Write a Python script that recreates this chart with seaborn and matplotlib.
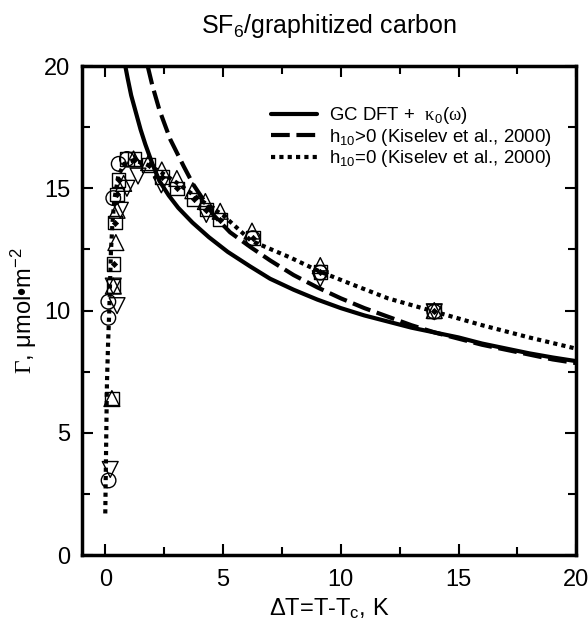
import matplotlib
matplotlib.use("Agg")
import matplotlib.pyplot as plt
import seaborn as sns
import pandas as pd
from matplotlib.ticker import MultipleLocator

# ---------------- data ----------------
solid_x = [0.85, 0.95, 1.1, 1.3, 1.5, 1.7, 2.0, 2.3, 2.7, 3.1, 3.7, 4.4, 5.2, 6.16, 7.0, 8.0, 9.0, 10.0,
           11.0, 12.0, 13.0, 14.0, 15.0, 16.0, 17.0, 18.0, 19.0, 20.0]
solid_y = [20.0, 19.5, 18.8, 18.1, 17.4, 16.8, 16.0, 15.3, 14.7, 14.2, 13.6, 13.0, 12.4, 11.8, 11.3, 10.85,
           10.45, 10.1, 9.8, 9.55, 9.3, 9.1, 8.9, 8.65, 8.45, 8.25, 8.08, 7.93]

dash_x = [1.8, 2.0, 2.3, 2.76, 3.33, 3.74, 4.6, 5.3, 6.16, 7.0, 8.0, 9.0, 10.0, 11.0, 12.0, 13.0, 14.0,
          15.0, 16.0, 17.0, 18.0, 19.0, 20.0]
dash_y = [20.0, 19.2, 18.2, 17.0, 15.9, 15.15, 13.9, 13.2, 12.6, 12.05, 11.45, 10.95, 10.5, 10.1, 9.75,
          9.4, 9.1, 8.85, 8.6, 8.4, 8.2, 8.0, 7.85]

dot_x = [0.0, 0.03, 0.07, 0.12, 0.17, 0.24, 0.3, 0.38, 0.55, 0.8, 1.2, 1.7, 2.3, 3.0, 4.0, 5.0, 6.2,
         7.85, 9.1, 10.4, 12.0, 14.0, 16.0, 18.0, 20.0]
dot_y = [1.7, 4.0, 7.0, 8.7, 10.0, 12.4, 13.5, 14.5, 15.5, 16.0, 16.15, 16.0, 15.7, 15.25, 14.55, 13.9,
         12.85, 12.17, 11.6, 11.1, 10.5, 9.95, 9.4, 8.9, 8.44]

circ_x = [0.14, 0.13, 0.13, 0.34, 0.57, 0.92, 6.27, 9.13, 13.97]
circ_y = [3.05, 9.7, 10.36, 14.6, 16.0, 16.2, 12.96, 11.55, 9.95]

sq_x = [0.28, 0.34, 0.35, 0.42, 0.5, 0.57, 0.92, 1.25, 1.84, 2.4, 3.04, 3.75, 4.29, 4.88, 6.27, 9.13, 13.97]
sq_y = [6.4, 11.0, 11.9, 13.6, 14.75, 15.34, 16.2, 16.2, 15.95, 15.47, 15.0, 14.55, 14.13, 13.72, 12.96,
        11.57, 9.99]

up_x = [0.28, 0.34, 0.45, 0.5, 0.78, 1.2, 1.84, 2.4, 3.04, 3.72, 4.25, 4.88, 6.23, 9.13, 13.97]
up_y = [6.4, 11.0, 12.78, 14.1, 15.2, 16.2, 16.05, 15.75, 15.4, 14.9, 14.46, 14.06, 13.25, 11.84, 10.0]

dn_x = [0.21, 0.5, 0.34, 0.64, 0.92, 1.39, 2.38, 4.29, 9.13, 13.97]
dn_y = [3.5, 10.2, 11.0, 14.1, 15.0, 15.5, 15.14, 13.93, 11.3, 9.95]

dia_x = [0.35, 0.42, 0.5, 0.57, 1.25, 1.84, 2.4, 3.04, 3.75, 4.29, 4.88, 6.27, 9.13, 13.97]
dia_y = [11.9, 13.6, 14.75, 15.34, 16.2, 15.95, 15.47, 15.0, 14.55, 14.13, 13.72, 12.96, 11.57, 9.99]

labels = ["GC DFT +  $\\mathsf{κ}_0$($\\mathsf{ω}$)", "h$_{10}$>0 (Kiselev et al., 2000)",
          "h$_{10}$=0 (Kiselev et al., 2000)"]

# ---------------- style ----------------
sns.set_style("ticks")
plt.rcParams["font.family"] = ["Liberation Sans", "DejaVu Sans"]
plt.rcParams["mathtext.fontset"] = "custom"
plt.rcParams["mathtext.rm"] = "Liberation Sans"
plt.rcParams["mathtext.it"] = "Liberation Sans:italic"
plt.rcParams["mathtext.bf"] = "Liberation Sans:bold"
plt.rcParams["mathtext.sf"] = "Liberation Serif"
for k in ["text.color", "axes.labelcolor", "xtick.color", "ytick.color", "axes.edgecolor"]:
    plt.rcParams[k] = "black"

fig = plt.figure(figsize=(5.88, 6.29), dpi=100)
ax = fig.add_axes([0.139, 0.1176, 0.841, 0.7774])

df_s = pd.DataFrame({"x": solid_x, "y": solid_y})
df_d = pd.DataFrame({"x": dash_x, "y": dash_y})
df_o = pd.DataFrame({"x": dot_x, "y": dot_y})

# markers
mk = dict(facecolor="none", edgecolor="black", linewidth=1.0, legend=False, zorder=3)
sns.scatterplot(x=circ_x, y=circ_y, marker="o", s=110, ax=ax, **mk)
sns.scatterplot(x=sq_x, y=sq_y, marker="s", s=95, ax=ax, **mk)
sns.scatterplot(x=up_x, y=up_y, marker="^", s=130, ax=ax, **mk)
sns.scatterplot(x=dn_x, y=dn_y, marker="v", s=130, ax=ax, **mk)
sns.scatterplot(x=dia_x, y=dia_y, marker="D", s=10, color="black", edgecolor="black", linewidth=0.5,
                legend=False, ax=ax, zorder=4)

sns.lineplot(data=df_s, x="x", y="y", sort=False, estimator=None, color="black", lw=3.0, ax=ax,
             label=labels[0], zorder=5)
sns.lineplot(data=df_d, x="x", y="y", sort=False, estimator=None, color="black", lw=3.0, ax=ax,
             label=labels[1], zorder=5)
sns.lineplot(data=df_o, x="x", y="y", sort=False, estimator=None, color="black", lw=3.0, ax=ax,
             label=labels[2], zorder=5)
lines = ax.get_lines()
lines[0].set_linestyle("-")
lines[1].set_dashes([4.5, 1.6])
lines[2].set_dashes([1.0, 1.0])
lines[2].set_dash_capstyle("butt")

ax.set_xlim(-1, 20)
ax.set_ylim(0, 20)
ax.xaxis.set_major_locator(MultipleLocator(5))
ax.xaxis.set_minor_locator(MultipleLocator(2.5))
ax.yaxis.set_major_locator(MultipleLocator(5))
ax.yaxis.set_minor_locator(MultipleLocator(2.5))
ax.tick_params(which="both", direction="in", top=True, right=True, width=1.5, labelsize=17)
ax.tick_params(axis="x", pad=10)
ax.tick_params(axis="y", pad=8)
ax.tick_params(which="major", length=8)
ax.tick_params(which="minor", length=6)
for sp in ax.spines.values():
    sp.set_linewidth(2.5)
    sp.set_color("black")

ax.set_xlabel("ΔT=T-T$_\\mathrm{c}$, K", fontsize=17, labelpad=4)
ax.set_ylabel("$\\mathsf{Γ}$, μmol•m$^{-2}$", fontsize=17, labelpad=4)
ax.set_title("SF$_6$/graphitized carbon", fontsize=18, pad=24)

leg = ax.legend(loc="upper left", bbox_to_anchor=(0.367, 0.935), frameon=False, fontsize=13.4,
                handlelength=2.5, handletextpad=0.65, labelspacing=0.02, borderaxespad=0)

fig.savefig("out.png", dpi=100)
